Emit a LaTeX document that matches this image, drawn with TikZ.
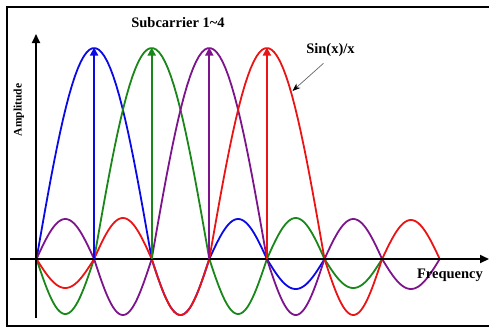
\documentclass[tikz,border=0pt]{standalone}
\usepackage{fontspec}
\setmainfont{Liberation Serif}
\usetikzlibrary{arrows.meta}
\definecolor{cblue}{RGB}{10,10,230}
\definecolor{cgreen}{RGB}{25,135,25}
\definecolor{cpurple}{RGB}{125,20,140}
\definecolor{cred}{RGB}{235,20,20}
\newcommand\Xo{36.5}
\newcommand\Sp{57.6}
\newcommand\Yb{259}
\newcommand\lobe[4]{%
  \draw[curve,#1] plot[domain=0:1,samples=40,variable=\t]
    ({\Xo+(#2+\t*#3)*\Sp},{\Yb-(#4)*sin(\t*180)});}
\begin{document}
\begin{tikzpicture}[x=1pt,y=-1pt,
  curve/.style={line width=1.8pt,line cap=round,line join=round},
  vec/.style={line width=1.8pt,-{Triangle[width=8pt,length=8pt]}},
  axis/.style={line width=1.8pt,black,-{Triangle[width=8pt,length=9pt]}},
  frame/.style={line width=2pt,black},
  pointer/.style={line width=0.7pt,black!60,-{Stealth[width=6pt,length=8pt,black]}},
  lbl/.style={inner sep=0pt,anchor=base,font=\fontsize{14.5}{16}\selectfont\bfseries}]
\useasboundingbox (0,0) rectangle (489,327);
% frame
\draw[frame] (489,7) -- (6.5,7) -- (6.5,325.5) -- (489,325.5);
% curves
\lobe{cblue}{0}{2}{211}
\lobe{cblue}{2}{1}{-56}
\lobe{cblue}{3}{1}{40}
\lobe{cblue}{4}{1}{-30}
\lobe{cgreen}{0}{1}{-55}
\lobe{cgreen}{1}{2}{211}
\lobe{cgreen}{3}{1}{-55}
\lobe{cgreen}{4}{1}{41}
\lobe{cgreen}{5}{1}{-29}
\lobe{cpurple}{0}{1}{40}
\lobe{cpurple}{1}{1}{-56}
\lobe{cpurple}{2}{2}{211}
\lobe{cpurple}{4}{1}{-56}
\lobe{cpurple}{5}{1}{40}
\lobe{cpurple}{6}{1}{-30}
\lobe{cred}{0}{1}{-29}
\lobe{cred}{1}{1}{41}
\lobe{cred}{2}{1}{-56}
\lobe{cred}{3}{2}{211}
\lobe{cred}{5}{1}{-56}
\lobe{cred}{6}{1}{39}
% axes
\coordinate (ybot) at (36,318);
\coordinate (ytop) at (36,34);
\coordinate (xl) at (10,259);
\coordinate (xr) at (489,259);
\draw[axis] (ybot) -- (ytop);
\draw[axis] (xl) -- (xr);
% subcarrier arrows
\foreach \i/\c in {1/cblue,2/cgreen,3/cpurple,4/cred}{
  \coordinate (b\i) at ({\Xo+\i*\Sp},\Yb);
  \coordinate (t\i) at ({\Xo+\i*\Sp},47.5);
  \draw[vec,\c] (b\i) -- (t\i);
}
% labels
\node[lbl] (sub) at (178,27.3) {Subcarrier 1\textasciitilde4};
\node[lbl] (sinc) at (330.5,53) {Sin(x)/x};
\node[lbl] (freq) at (450,278) {Frequency};
\node[lbl,rotate=90,font=\fontsize{11.5}{13}\selectfont\bfseries] (amp) at (21.5,110) {Amplitude};
\coordinate (pt) at (292.5,91);
\draw[pointer] ([xshift=-7pt,yshift=-7pt]sinc.south) -- (pt);
\end{tikzpicture}
\end{document}
